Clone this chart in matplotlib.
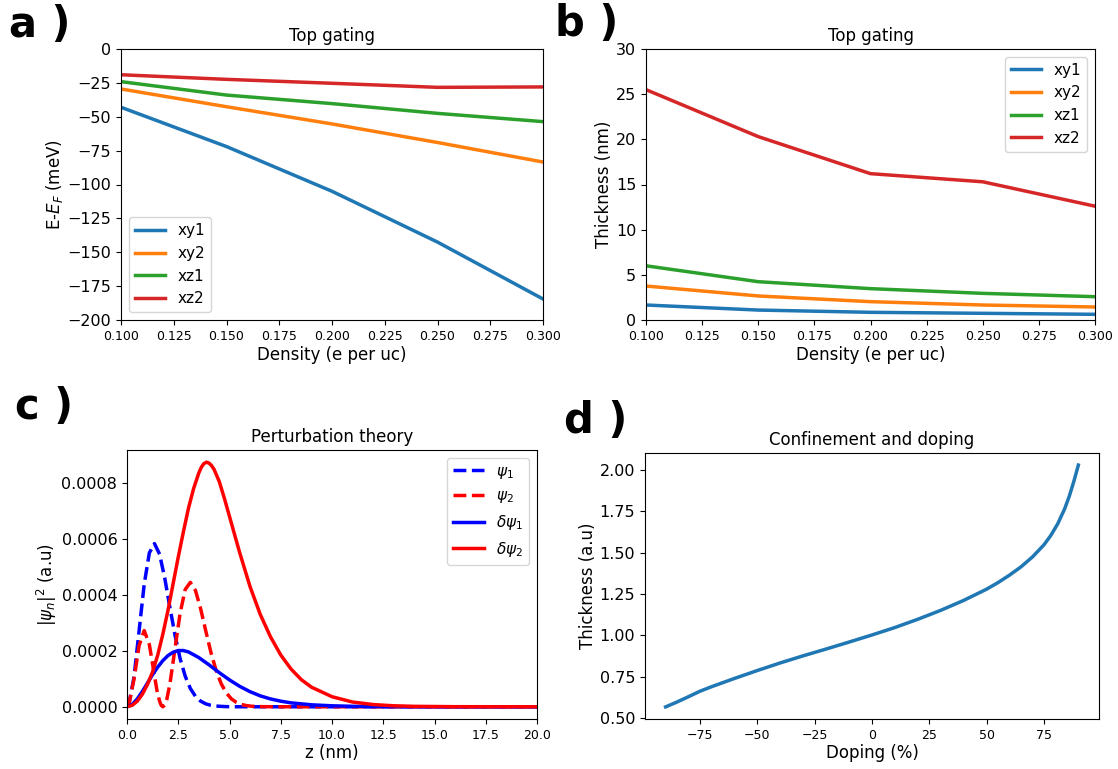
import matplotlib
matplotlib.use("Agg")
import matplotlib.pyplot as plt
import numpy as np

# ---------------- data ----------------
density = [0.10, 0.15, 0.20, 0.25, 0.30]
labels_ab = ["xy1", "xy2", "xz1", "xz2"]

energy_xy1 = [-43, -72, -105, -142.5, -184.5]
energy_xy2 = [-29.5, -42.6, -55.3, -69, -83.4]
energy_xz1 = [-24.1, -34, -40.3, -47.5, -53.6]
energy_xz2 = [-19, -22.4, -25.3, -28.3, -28]

thick_xy1 = [1.66, 1.1, 0.85, 0.74, 0.63]
thick_xy2 = [3.76, 2.66, 2.03, 1.66, 1.44]
thick_xz1 = [6.0, 4.24, 3.47, 2.95, 2.58]
thick_xz2 = [25.5, 20.3, 16.2, 15.3, 12.6]

# panel c (values in units of 1e-4)
z_psi1 = [0, 0.09, 0.34, 0.59, 0.84, 1.09, 1.34, 1.59, 1.84, 2.09, 2.34, 2.59,
          2.84, 3.09, 3.34, 3.59, 3.84, 4.09, 4.34, 4.84, 5.34, 6.0, 8.0, 10.0, 15.0, 20.0]
psi1 = [0, 0.077, 1.052, 2.716, 4.383, 5.500, 5.833, 5.452, 4.603, 3.566, 2.564, 1.724,
        1.092, 0.654, 0.372, 0.202, 0.105, 0.052, 0.025, 0.005, 0.001, 0, 0, 0, 0, 0]

z_psi2 = [0, 0.09, 0.34, 0.59, 0.84, 1.09, 1.34, 1.46, 1.59, 1.67, 1.75, 1.84, 1.94,
          2.09, 2.34, 2.59, 2.84, 3.09, 3.34, 3.59, 3.84, 4.09, 4.34, 4.59, 4.84,
          5.09, 5.34, 5.59, 5.84, 6.09, 6.59, 7.09, 8.0, 10.0, 15.0, 20.0]
psi2 = [0, 0.077, 0.982, 2.187, 2.723, 2.225, 1.118, 0.586, 0.196, 0.051, 0, 0.059, 0.262,
        0.802, 2.070, 3.342, 4.193, 4.447, 4.156, 3.509, 2.718, 1.954, 1.314, 0.832, 0.499,
        0.284, 0.154, 0.080, 0.040, 0.019, 0.004, 0.001, 0, 0, 0, 0]

z_dpsi1 = [0, 0.25, 0.5, 0.75, 1.0, 1.25, 1.5, 1.75, 2.0, 2.25, 2.5, 2.75, 3.0, 3.5, 4.0,
           4.5, 5.0, 5.5, 6.0, 6.5, 7.0, 7.5, 8.0, 9.0, 10.0, 11.0, 12.0, 14.0, 20.0]
dpsi1 = [0, 0.08, 0.28, 0.55, 0.85, 1.15, 1.42, 1.65, 1.83, 1.95, 2.01, 2.01, 1.96, 1.76, 1.50,
         1.22, 0.96, 0.73, 0.54, 0.39, 0.28, 0.20, 0.14, 0.07, 0.035, 0.017, 0.008, 0.002, 0]

z_dpsi2 = [0, 0.25, 0.5, 0.75, 1.0, 1.25, 1.5, 1.75, 2.0, 2.25, 2.5, 2.75, 3.0, 3.25, 3.5,
           3.625, 3.75, 3.875, 4.0, 4.125, 4.25, 4.5, 4.75, 5.0, 5.5, 6.0, 6.5, 7.0, 7.5,
           8.0, 8.5, 9.0, 10.0, 11.0, 12.0, 13.0, 14.0, 16.0, 20.0]
dpsi2 = [0, 0.05, 0.2, 0.45, 0.8, 1.25, 1.85, 2.6, 3.45, 4.4, 5.35, 6.25, 7.1, 7.8, 8.35,
         8.56, 8.69, 8.74, 8.71, 8.62, 8.48, 8.05, 7.45, 6.8, 5.5, 4.3, 3.3, 2.5, 1.85,
         1.35, 0.97, 0.7, 0.36, 0.17, 0.08, 0.035, 0.015, 0.003, 0]

# panel d
doping = [-90, -85, -80, -75, -70, -60, -50, -40, -30, -20, -10, 0, 10, 20, 30, 40, 50,
          55, 60, 65, 70, 75, 78, 81, 84, 86, 88, 90]
thick_d = [0.568, 0.598, 0.63, 0.663, 0.69, 0.74, 0.788, 0.834, 0.877, 0.918, 0.96, 1.003,
           1.048, 1.098, 1.152, 1.212, 1.28, 1.32, 1.365, 1.415, 1.475, 1.548, 1.605,
           1.675, 1.765, 1.84, 1.93, 2.03]

# ---------------- figure ----------------
fig = plt.figure(figsize=(11.18, 7.69), dpi=100)
W, H = 1118, 769

def add_ax(l, t, r, b):
    return fig.add_axes([l / W, 1 - b / H, (r - l) / W, (b - t) / H])

axa = add_ax(121, 49, 543, 320)
axb = add_ax(646, 49, 1095, 320)
axc = add_ax(127, 450, 537, 719)
axd = add_ax(645, 453, 1099, 719)

LW = 2.5
XT = 9
YT = 11.5
LAB = 12
LEG = 11

def labels(ax, xl, yl, title):
    ax.set_title(title, fontsize=LAB)
    ax.set_xlabel(xl, fontsize=LAB, labelpad=2)
    ax.set_ylabel(yl, fontsize=LAB, labelpad=2)

# a
for vals, lab in zip([energy_xy1, energy_xy2, energy_xz1, energy_xz2], labels_ab):
    axa.plot(density, vals, lw=LW, label=lab)
axa.set_xlim(0.1, 0.3)
axa.set_ylim(-200, 0)
labels(axa, "Density (e per uc)", "E-$E_F$ (meV)", "Top gating")
axa.legend(loc="lower left", fontsize=LEG)

# b
for vals, lab in zip([thick_xy1, thick_xy2, thick_xz1, thick_xz2], labels_ab):
    axb.plot(density, vals, lw=LW, label=lab)
axb.set_xlim(0.1, 0.3)
axb.set_ylim(0, 30)
labels(axb, "Density (e per uc)", "Thickness (nm)", "Top gating")
axb.legend(loc="upper right", fontsize=LEG)

# c
s = 1e-4
axc.plot(z_psi1, np.array(psi1) * s, "b--", lw=LW, label=r"$\psi_1$")
axc.plot(z_psi2, np.array(psi2) * s, "r--", lw=LW, label=r"$\psi_2$")
axc.plot(z_dpsi1, np.array(dpsi1) * s, "b-", lw=LW, label=r"$\delta\psi_1$")
axc.plot(z_dpsi2, np.array(dpsi2) * s, "r-", lw=LW, label=r"$\delta\psi_2$")
axc.set_xlim(0, 20)
labels(axc, "z (nm)", r"$|\psi_n|^2$ (a.u)", "Perturbation theory")
axc.set_yticks([0, 0.0002, 0.0004, 0.0006, 0.0008])
axc.set_yticklabels(["0.0000", "0.0002", "0.0004", "0.0006", "0.0008"])
axc.legend(loc="upper right", fontsize=LEG)

# d
axd.plot(doping, thick_d, lw=LW, color="C0")
labels(axd, "Doping (%)", "Thickness (a.u)", "Confinement and doping")
axd.set_xticks([-75, -50, -25, 0, 25, 50, 75])
axd.set_yticks([0.5, 0.75, 1.0, 1.25, 1.5, 1.75, 2.0])
axd.set_yticklabels(["0.50", "0.75", "1.00", "1.25", "1.50", "1.75", "2.00"])

for ax in (axa, axb, axc, axd):
    ax.tick_params(axis="x", labelsize=XT)
    ax.tick_params(axis="y", labelsize=YT)

ticks_ab = [0.1, 0.125, 0.15, 0.175, 0.2, 0.225, 0.25, 0.275, 0.3]
ticklabels_ab = ["0.100", "0.125", "0.150", "0.175", "0.200", "0.225", "0.250", "0.275", "0.300"]
for ax in (axa, axb):
    ax.set_xticks(ticks_ab)
    ax.set_xticklabels(ticklabels_ab)

PL = 30
fig.text(9 / W, 1 - 37 / H, "a )", fontsize=PL, fontweight="bold")
fig.text(555 / W, 1 - 36 / H, "b )", fontsize=PL, fontweight="bold")
fig.text(15 / W, 1 - 419 / H, "c )", fontsize=PL, fontweight="bold")
fig.text(564 / W, 1 - 433 / H, "d )", fontsize=PL, fontweight="bold")

fig.savefig("out.png", dpi=100)
